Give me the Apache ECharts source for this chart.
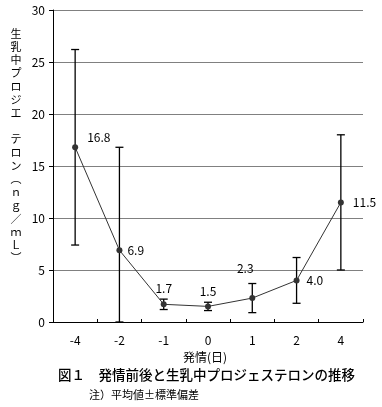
<!DOCTYPE html>
<html><head><meta charset="utf-8">
<script src="https://cdn.jsdelivr.net/npm/echarts@6/dist/echarts.min.js"></script>
<style>html,body{margin:0;padding:0;background:#fff}#c{width:382px;height:407px}</style>
</head><body><div id="c"></div>
<script>
// ---- data ----
const categories = ['-4', '-2', '-1', '0', '1', '2', '4'];
const means = [16.8, 6.9, 1.7, 1.5, 2.3, 4.0, 11.5];
const sds = [9.4, 9.9, 0.5, 0.4, 1.4, 2.2, 6.5];
const yTicks = [0, 5, 10, 15, 20, 25, 30];
const yTitleChars = ['生','乳','中','プ','ロ','ジ','エ',' ','テ','ロ','ン','︵','ｎ','ｇ','／','ｍ','Ｌ','︶'];
const xTitle = '発情(日)';
const caption = '図１　発情前後と生乳中プロジェステロンの推移';
const note = '注）平均値±標準偏差';

// ---- label placement (style, not data) ----
const labelPlace = [
  {position: 'right', offset: [4, -10]},
  {position: 'right', offset: [0, 0]},
  {position: 'top', offset: [0, -2]},
  {position: 'top', offset: [0, -1]},
  {position: 'top', offset: [-7, -16]},
  {position: 'right', offset: [2, 0]},
  {position: 'right', offset: [4, 0]}
];

const font = '"Noto Sans CJK JP", "DejaVu Sans", sans-serif';
const chart = echarts.init(document.getElementById('c'));

const lineData = means.map((v, i) => ({
  value: v,
  label: Object.assign({show: true, formatter: p => p.value.toFixed(1)}, labelPlace[i])
}));
const errData = means.map((m, i) => [i, Math.max(0, m - sds[i]), m + sds[i]]);

chart.setOption({
  animation: false,
  grid: {left: 53, right: 19, top: 10, bottom: 85},
  xAxis: {
    type: 'category', data: categories, boundaryGap: true,
    axisLine: {lineStyle: {color: '#000', width: 1}},
    axisTick: {show: true, inside: true, length: 3, alignWithLabel: false, lineStyle: {color: '#000'}},
    axisLabel: {color: '#000', fontSize: 12, fontFamily: font, margin: 12},
    splitLine: {show: false}
  },
  yAxis: {
    type: 'value', min: yTicks[0], max: yTicks[yTicks.length - 1], interval: 5,
    axisLine: {show: true, lineStyle: {color: '#000', width: 1}},
    axisTick: {show: true, length: 4, lineStyle: {color: '#000'}},
    axisLabel: {color: '#000', fontSize: 12, fontFamily: font, margin: 8},
    splitLine: {lineStyle: {color: '#808080', width: 1}}
  },
  series: [
    {
      type: 'custom',
      data: errData,
      z: 3,
      renderItem: function (params, api) {
        const x = api.value(0);
        const lo = api.coord([x, api.value(1)]);
        const hi = api.coord([x, api.value(2)]);
        const w = 4;
        const st = {stroke: '#000', lineWidth: 1.3};
        return {type: 'group', children: [
          {type: 'line', shape: {x1: lo[0], y1: lo[1], x2: hi[0], y2: hi[1]}, style: st},
          {type: 'line', shape: {x1: hi[0] - w, y1: hi[1], x2: hi[0] + w, y2: hi[1]}, style: st},
          {type: 'line', shape: {x1: lo[0] - w, y1: lo[1], x2: lo[0] + w, y2: lo[1]}, style: st}
        ]};
      }
    },
    {
      type: 'line',
      data: lineData,
      z: 4,
      symbol: 'circle', symbolSize: 6,
      itemStyle: {color: '#333'},
      lineStyle: {color: '#333', width: 1},
      label: {color: '#000', fontSize: 12, fontFamily: font}
    }
  ],
  graphic: [
    {type: 'text', x: 16, y: 27, style: {text: yTitleChars.join('\n'), font: '11px ' + font, lineHeight: 13.2, fill: '#000', align: 'center'}},
    {type: 'text', x: 205, y: 351, style: {text: xTitle, font: '12px ' + font, fill: '#000', align: 'center'}},
    {type: 'text', x: 58, y: 368, style: {text: caption, font: '500 13.5px ' + font, fill: '#000'}},
    {type: 'text', x: 89, y: 389, style: {text: note, font: '11px ' + font, fill: '#000'}}
  ]
});
</script>
</body></html>
